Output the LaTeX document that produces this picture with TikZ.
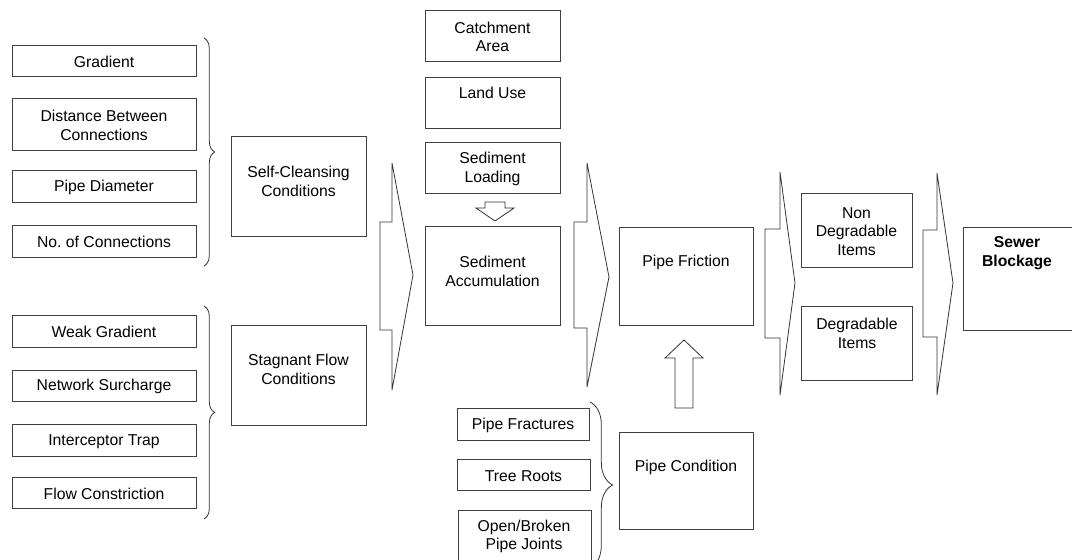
\documentclass[tikz,border=0pt]{standalone}
\usepackage{fontspec}
\setmainfont{Liberation Sans}
\usetikzlibrary{positioning, fit, decorations.pathreplacing}

\tikzset{
    box/.style={draw=black!75, line width=.6pt, inner sep=0pt},
    lbl/.style={align=center, inner sep=0pt, yshift=-1pt, font=\fontsize{11.8}{14}\selectfont},
    curly/.style={draw=black!80, line width=.6pt, decorate, decoration={brace, amplitude=#1}},
    curly/.default=8pt,
    chev/.style={draw=black!80, line width=.6pt, line join=miter},
}

\begin{document}
\begin{tikzpicture}[x=.75pt, y=-.75pt]
    \useasboundingbox (0,0) rectangle (1072,560);
    \clip (0,0) rectangle (1072,560);

    % self-cleansing factors
    \node[box, fit={(12,45) (196,76)}] (grad) {};
    \node[box, fit={(12,98) (196,150)}] (dist) {};
    \node[box, fit={(12,170) (196,202)}] (diam) {};
    \node[box, fit={(12,225) (196,257)}] (conn) {};
    \node[lbl] (t-grad) at (grad) {Gradient};
    \node[lbl] (t-dist) at (dist) {Distance Between\\Connections};
    \node[lbl] (t-diam) at (diam) {Pipe Diameter};
    \node[lbl] (t-conn) at (conn) {No.\ of Connections};

    % stagnant flow factors
    \node[box, fit={(12,315) (196,347)}] (weak) {};
    \node[box, fit={(12,370) (196,401)}] (surch) {};
    \node[box, fit={(12,424) (196,456)}] (trap) {};
    \node[box, fit={(12,477) (196,508)}] (constr) {};
    \node[lbl] (t-weak) at (weak) {Weak Gradient};
    \node[lbl] (t-surch) at (surch) {Network Surcharge};
    \node[lbl] (t-trap) at (trap) {Interceptor Trap};
    \node[lbl] (t-constr) at (constr) {Flow Constriction};

    \draw[curly] (204,38) -- (204,266);
    \draw[curly] (204,306) -- (204,519);

    \node[box, fit={(231,136) (366,236)}] (selfc) {};
    \node[box, fit={(231,325) (366,425)}] (stag) {};
    \node[lbl] (t-selfc) at (298.5,180) {Self-Cleansing\\Conditions};
    \node[lbl] (t-stag) at (298.5,368) {Stagnant Flow\\Conditions};

    \draw[chev] (392,163) -- (413,275) -- (392,390) -- (392,330)
        -- (380,330) -- (380,222) -- (392,222) -- cycle;

    % sediment column
    \node[box, fit={(425,10) (560,61)}] (catch) {};
    \node[box, fit={(425,77) (560,128)}] (land) {};
    \node[box, fit={(425,142) (560,193)}] (sload) {};
    \node[box, fit={(425,226) (560,325)}] (sacc) {};
    \node[lbl] (t-catch) at (catch) {Catchment\\Area};
    \node[lbl] (t-land) at (492.5,92) {Land Use};
    \node[lbl] (t-sload) at (sload) {Sediment\\Loading};
    \node[lbl] (t-sacc) at (492.5,270) {Sediment\\Accumulation};

    \draw[chev] (485,202) -- (505,202) -- (505,208) -- (514,208)
        -- (495,221) -- (476,208) -- (485,208) -- cycle;

    \draw[chev] (587,163) -- (609,277) -- (587,387) -- (587,328)
        -- (574,328) -- (574,222) -- (587,222) -- cycle;

    % friction and pipe condition
    \node[box, fit={(619,227) (753,325)}] (fric) {};
    \node[lbl] (t-fric) at (686,261) {Pipe Friction};

    \draw[chev] (675,408) -- (675,358) -- (665,358) -- (684,340)
        -- (703,358) -- (693,358) -- (693,408) -- cycle;

    \node[box, fit={(457,408) (589,440)}] (fract) {};
    \node[box, fit={(457,459) (590,490)}] (roots) {};
    \node[box, fit={(458,510) (591,580)}] (joints) {};
    \node[lbl] (t-fract) at (fract) {Pipe Fractures};
    \node[lbl] (t-roots) at (roots) {Tree Roots};
    \node[lbl] (t-joints) at (524,535) {Open/Broken\\Pipe Joints};

    \draw[curly=17pt] (590,402) -- (590,568);

    \node[box, fit={(619,432) (753,529)}] (pcond) {};
    \node[lbl] (t-pcond) at (686,466) {Pipe Condition};

    \draw[chev] (780,172) -- (795,283) -- (780,395) -- (780,338)
        -- (765,338) -- (765,229) -- (780,229) -- cycle;

    % items and blockage
    \node[box, fit={(801,193) (912,267)}] (nondeg) {};
    \node[box, fit={(801,306) (912,380)}] (deg) {};
    \node[lbl] (t-nondeg) at (nondeg) {Non\\Degradable\\Items};
    \node[lbl] (t-deg) at (857,332) {Degradable\\Items};

    \draw[chev] (937,173) -- (953,283) -- (937,395) -- (937,337)
        -- (923,337) -- (923,230) -- (937,230) -- cycle;

    \node[box, fit={(963,227) (1090,330)}] (block) {};
    \node[lbl, font=\fontsize{11.8}{14}\selectfont\bfseries] (t-block) at (1017,252) {Sewer\\Blockage};
\end{tikzpicture}
\end{document}
